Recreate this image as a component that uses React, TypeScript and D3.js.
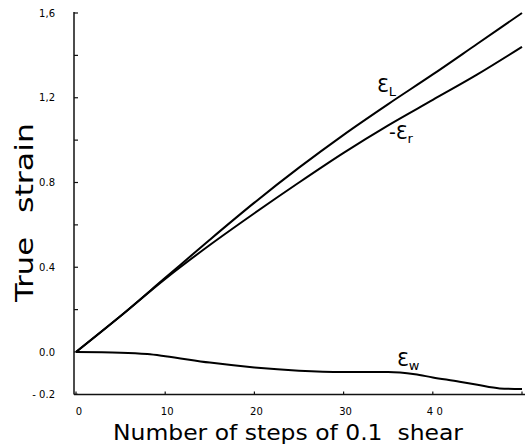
import { useRef, useEffect } from "react";
import * as d3 from "d3";

const steps = [0, 5, 10, 15, 20, 25, 30, 35, 40, 45, 50];
const strainL = [0, 0.17, 0.35, 0.53, 0.705, 0.87, 1.025, 1.17, 1.31, 1.455, 1.6];
const strainR = [0, 0.17, 0.345, 0.505, 0.655, 0.8, 0.94, 1.07, 1.19, 1.31, 1.44];

const stepsW = [0, 5, 8, 10, 15, 20, 25, 30, 35, 38, 40, 43, 45, 47.5, 50];
const strainW = [0, -0.003, -0.01, -0.02, -0.05, -0.073, -0.088, -0.094, -0.094, -0.105, -0.12, -0.14, -0.155, -0.172, -0.175];

const xTicks = [0, 10, 20, 30, 40];
const xTickLabels = ["0", "10", "20", "30", "4 0"];
const yTicks = [-0.2, 0, 0.4, 0.8, 1.2, 1.6];
const yTickLabels = ["- 0.2", "0.0", "0.4", "0.8", "1,2", "1,6"];
const yMinor = [0.2, 0.6, 1.0, 1.4];

const FONT = "DejaVu Sans, sans-serif";

export default function App() {
  const svgRef = useRef<SVGSVGElement>(null);

  useEffect(() => {
    if (!svgRef.current) return;
    const svg = d3.select(svgRef.current);
    svg.selectAll("*").remove();

    const x = d3.scaleLinear().domain([0, 50]).range([76, 522]);
    const y = d3.scaleLinear().domain([0, 1.6]).range([352, 13]);

    // axes
    svg.append("line")
      .attr("x1", 74).attr("x2", 74)
      .attr("y1", y(1.6) - 1).attr("y2", y(-0.2))
      .attr("stroke", "#111").attr("stroke-width", 1.5);
    svg.append("line")
      .attr("x1", 74).attr("x2", 525)
      .attr("y1", y(-0.2)).attr("y2", y(-0.2))
      .attr("stroke", "#111").attr("stroke-width", 1.5);

    // y ticks
    [...yTicks, ...yMinor].forEach(v => {
      svg.append("line")
        .attr("x1", 74).attr("x2", 78)
        .attr("y1", y(v)).attr("y2", y(v))
        .attr("stroke", "#111").attr("stroke-width", 1.2);
    });
    yTicks.forEach((v, i) => {
      svg.append("text")
        .attr("x", 55).attr("y", y(v) + 3.5)
        .attr("text-anchor", "end")
        .attr("font-family", FONT).attr("font-size", 10)
        .text(yTickLabels[i]);
    });

    // x ticks
    [...xTicks, 50].forEach(v => {
      svg.append("line")
        .attr("x1", x(v)).attr("x2", x(v))
        .attr("y1", y(-0.2)).attr("y2", y(-0.2) - 3)
        .attr("stroke", "#111").attr("stroke-width", 1.2);
    });
    xTicks.forEach((v, i) => {
      svg.append("text")
        .attr("x", x(v) + (v === 0 ? 3 : 2)).attr("y", 415)
        .attr("text-anchor", "middle")
        .attr("font-family", FONT).attr("font-size", 10)
        .text(xTickLabels[i]);
    });

    // titles
    svg.append("text")
      .attr("x", 113).attr("y", 440)
      .attr("font-family", FONT).attr("font-size", 22)
      .attr("textLength", 350).attr("lengthAdjust", "spacingAndGlyphs")
      .attr("xml:space", "preserve")
      .style("white-space", "pre")
      .text("Number of steps of 0.1  shear");
    svg.append("text")
      .attr("transform", "translate(33,302) rotate(-90)")
      .attr("font-family", FONT).attr("font-size", 25)
      .attr("textLength", 65).attr("lengthAdjust", "spacingAndGlyphs")
      .text("True");
    svg.append("text")
      .attr("transform", "translate(33,213) rotate(-90)")
      .attr("font-family", FONT).attr("font-size", 25)
      .attr("textLength", 90).attr("lengthAdjust", "spacingAndGlyphs")
      .text("strain");

    // curves
    const line = d3.line<[number, number]>()
      .x(d => x(d[0]))
      .y(d => y(d[1]))
      .curve(d3.curveMonotoneX);

    const series: [number, number][][] = [
      steps.map((s, i) => [s, strainL[i]]),
      steps.map((s, i) => [s, strainR[i]]),
      stepsW.map((s, i) => [s, strainW[i]]),
    ];
    series.forEach(d => {
      svg.append("path")
        .datum(d)
        .attr("fill", "none")
        .attr("stroke", "#000")
        .attr("stroke-width", 2)
        .attr("d", line);
    });

    // curve labels
    const label = (px: number, py: number, main: string, sub: string) => {
      const t = svg.append("text")
        .attr("x", px).attr("y", py)
        .attr("font-family", FONT).attr("font-size", 19);
      t.append("tspan").text(main);
      t.append("tspan").attr("font-size", 13).attr("dy", 4).text(sub);
    };
    label(377, 92, "Ɛ", "L");
    label(389, 139, "-Ɛ", "r");
    label(397, 366, "Ɛ", "w");
  }, []);

  return (
    <svg
      ref={svgRef}
      width={525}
      height={447}
      style={{ position: "absolute", left: 0, top: 0, background: "#fff" }}
    />
  );
}
